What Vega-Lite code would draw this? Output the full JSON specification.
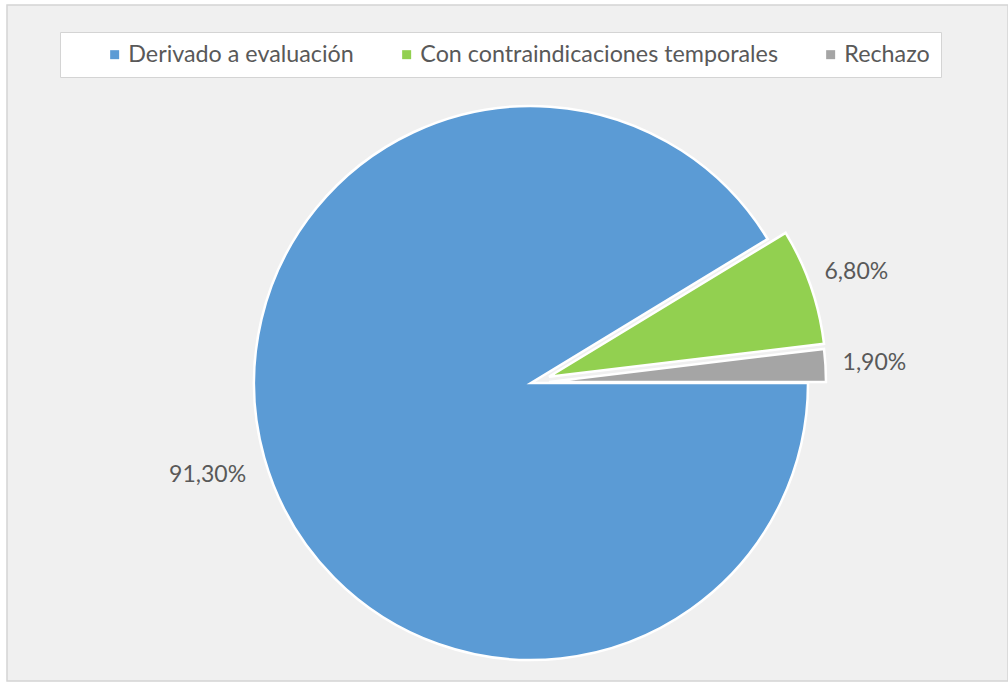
{
  "$schema": "https://vega.github.io/schema/vega-lite/v6.json",
  "width": 1008,
  "height": 684,
  "autosize": {"type": "fit", "contains": "padding"},
  "padding": {"left": 7, "top": 5, "right": 0, "bottom": 3},
  "background": "#ffffff",
  "view": {"fill": "#f0f0f0", "stroke": "#d4d4d4", "strokeWidth": 1.5},
  "data": {
    "values": [
      {"cat": "Derivado a evaluación", "value": 91.3, "label": "91,30%"},
      {"cat": "Con contraindicaciones temporales", "value": 6.8, "label": "6,80%"},
      {"cat": "Rechazo", "value": 1.9, "label": "1,90%"}
    ]
  },
  "transform": [
    {"stack": "value", "groupby": [], "sort": [{"field": "value", "order": "descending"}], "as": ["v0", "v1"]}
  ],
  "encoding": {
    "color": {
      "field": "cat",
      "type": "nominal",
      "scale": {
        "domain": ["Derivado a evaluación", "Con contraindicaciones temporales", "Rechazo"],
        "range": ["#5b9bd5", "#92d050", "#a5a5a5"]
      },
      "legend": {
        "orient": "none",
        "legendX": 53,
        "legendY": 27,
        "direction": "horizontal",
        "title": " ",
        "titleOrient": "left",
        "titlePadding": 32,
        "titleFontSize": 1,
        "symbolType": "square",
        "symbolSize": 81,
        "symbolStrokeWidth": 0,
        "labelFont": "Lato",
        "labelFontSize": 23.3,
        "labelColor": "#595959",
        "labelOffset": 2,
        "labelLimit": 0,
        "columnPadding": 41,
        "padding": 11,
        "strokeColor": "#d4d4d4",
        "fillColor": "#ffffff"
      }
    }
  },
  "layer": [
    {
      "transform": [{"filter": "datum.cat === 'Derivado a evaluación'"}],
      "mark": {"type": "arc", "radius": 277, "stroke": "#ffffff", "strokeWidth": 2.5, "xOffset": 23.5, "yOffset": 40},
      "encoding": {
        "theta": {"field": "v0", "type": "quantitative", "scale": {"domain": [0, 100], "range": [1.5708, 7.854]}},
        "theta2": {"field": "v1"}
      }
    },
    {
      "transform": [{"filter": "datum.cat === 'Con contraindicaciones temporales'"}],
      "mark": {"type": "arc", "radius": 277, "stroke": "#ffffff", "strokeWidth": 2.5, "xOffset": 41.5, "yOffset": 33.8},
      "encoding": {
        "theta": {"field": "v0", "type": "quantitative", "scale": {"domain": [0, 100], "range": [1.5708, 7.854]}},
        "theta2": {"field": "v1"}
      }
    },
    {
      "transform": [{"filter": "datum.cat === 'Rechazo'"}],
      "mark": {"type": "arc", "radius": 277, "stroke": "#ffffff", "strokeWidth": 2.5, "xOffset": 41.5, "yOffset": 38.9},
      "encoding": {
        "theta": {"field": "v0", "type": "quantitative", "scale": {"domain": [0, 100], "range": [1.5708, 7.854]}},
        "theta2": {"field": "v1"}
      }
    },
    {
      "mark": {"type": "text", "radius": 340, "xOffset": 27.5, "yOffset": 40, "font": "Lato", "fontSize": 23, "align": "center", "baseline": "middle"},
      "encoding": {
        "theta": {"field": "value", "type": "quantitative", "stack": true},
        "order": {"field": "value", "type": "quantitative", "sort": "descending"},
        "text": {"field": "label"},
        "color": {"value": "#595959"}
      }
    }
  ],
  "config": {
    "view": {"stroke": "#d4d4d4", "strokeWidth": 1.5, "fill": "#f0f0f0"}
  }
}
